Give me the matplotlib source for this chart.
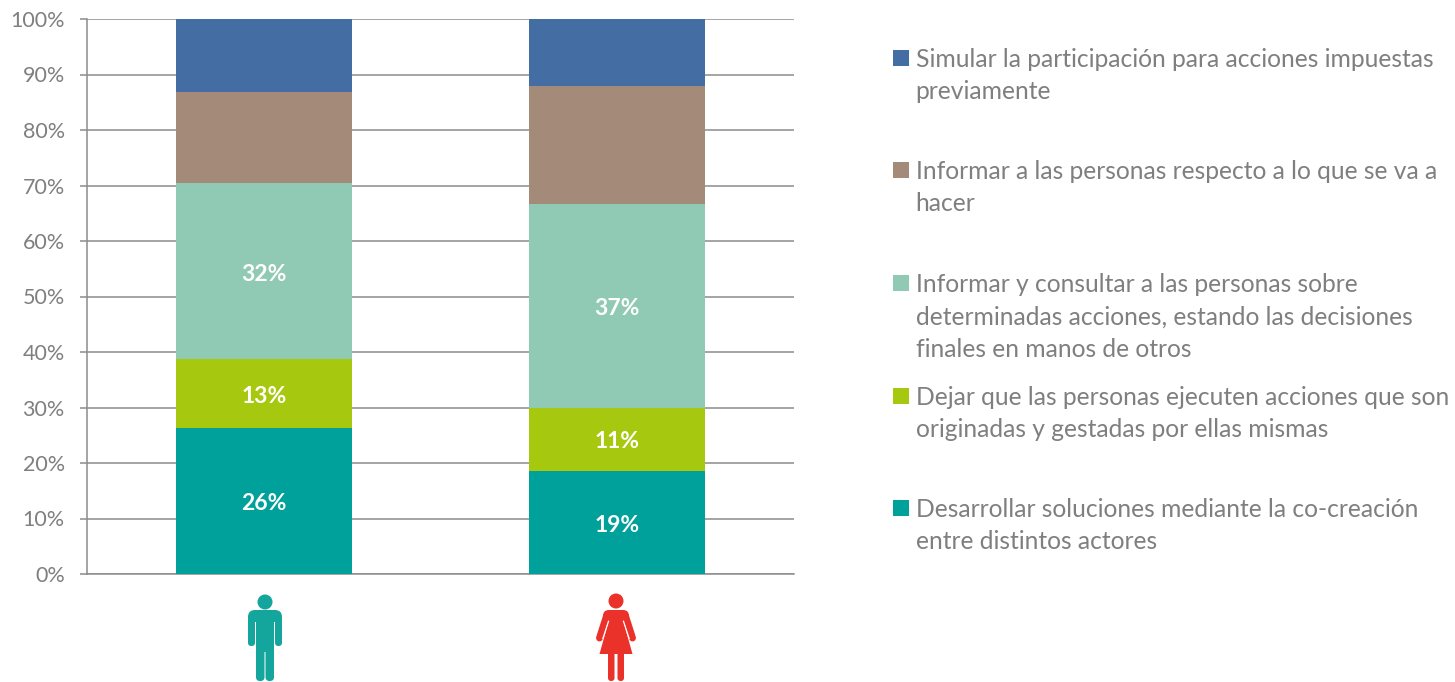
import matplotlib
matplotlib.use('Agg')
import matplotlib.pyplot as plt
from matplotlib.patches import Circle, Polygon, FancyBboxPatch, Rectangle
from matplotlib.ticker import FuncFormatter

plt.rcParams['font.family'] = ['Lato', 'DejaVu Sans']

W, H = 1455, 682
GRAY = '#8c8c8c'
TEXT = '#7f7f7f'

groups = ['Hombres', 'Mujeres']
desarrollar = [26.3, 18.6]
dejar = [12.4, 11.4]
consultar = [31.7, 36.6]
informar = [16.4, 21.4]
simular = [13.2, 12.0]

series = [desarrollar, dejar, consultar, informar, simular]
colors = ['#00a19a', '#a6c80f', '#90cab4', '#a48a79', '#446ea3']
bar_labels = [['26%', '19%'], ['13%', '11%'], ['32%', '37%'], ['', ''], ['', '']]

legend_labels = [
    'Simular la participación para acciones impuestas\npreviamente',
    'Informar a las personas respecto a lo que se va a\nhacer',
    'Informar y consultar a las personas sobre\ndeterminadas acciones, estando las decisiones\nfinales en manos de otros',
    'Dejar que las personas ejecuten acciones que son\noriginadas y gestadas por ellas mismas',
    'Desarrollar soluciones mediante la co-creación\nentre distintos actores',
]
legend_colors = colors[::-1]
legend_y = [58, 170, 283, 396, 508]


def rbox(ov, x0, y0, x1, y1, r, color):
    ov.add_patch(FancyBboxPatch((x0, y0), x1-x0, y1-y0, boxstyle=f'round,pad=0,rounding_size={r}', color=color, lw=0))


def man(ov, cx, color):
    ov.add_patch(Circle((cx, 602), 7.5, color=color, lw=0))
    rbox(ov, cx-17, 615, cx-10, 646, 3.4, color)
    rbox(ov, cx+10, 615, cx+17, 646, 3.4, color)
    rbox(ov, cx-17, 610, cx+17, 634, 7, color)
    # slits between arms and body
    ov.add_patch(Rectangle((cx-10.2, 622), 1.5, 26, color='white', lw=0))
    ov.add_patch(Rectangle((cx+8.7, 622), 1.5, 26, color='white', lw=0))
    ov.add_patch(Rectangle((cx-8.8, 630), 17.6, 22, color=color, lw=0))
    rbox(ov, cx-9, 646, cx-0.5, 681, 4, color)
    rbox(ov, cx+0.5, 646, cx+9, 681, 4, color)


def woman(ov, cx, color):
    ov.add_patch(Circle((cx, 601), 7.5, color=color, lw=0))
    for sgn in (-1, 1):
        ov.plot([cx+sgn*9.5, cx+sgn*16.5], [616, 638], color=color, lw=5, solid_capstyle='round')
    rbox(ov, cx-13, 610, cx+13, 624, 6, color)
    for sgn in (-1, 1):
        ov.plot([cx+sgn*7.3, cx+sgn*13.3], [620.7, 639], color='white', lw=0.9, solid_capstyle='butt')
    ov.add_patch(Polygon([(cx-7, 620), (cx+7, 620), (cx+16.5, 654), (cx-16.5, 654)], closed=True, color=color, lw=0))
    rbox(ov, cx-8, 650, cx-1.5, 681, 3, color)
    rbox(ov, cx+1.5, 650, cx+8, 681, 3, color)


fig = plt.figure(figsize=(W/100, H/100), dpi=100)
ax = fig.add_axes([87/W, 1-574/H, (794-87)/W, (574-19)/H])

x = range(len(groups))
bottom = [0, 0]
for vals, col, labs in zip(series, colors, bar_labels):
    bars = ax.bar(x, vals, width=0.498, bottom=bottom, color=col, zorder=3)
    anns = ax.bar_label(bars, labels=labs, label_type='center', color='white', fontsize=16.5, fontweight='bold', zorder=4)
    for a in anns:
        a.xyann = (0, -2)
    bottom = [b+v for b, v in zip(bottom, vals)]

ax.set_xlim(-0.5, 1.5)
ax.set_ylim(0, 100)
ax.set_yticks(range(0, 101, 10))
ax.yaxis.set_major_formatter(FuncFormatter(lambda v, p: f'{v:.0f}%'))
ax.set_xticks([])
ax.grid(axis='y', color=GRAY, lw=1.1, zorder=0)
ax.tick_params(axis='y', color=GRAY, labelcolor=TEXT, length=5, width=1.1, labelsize=15.5, pad=11)
for s in ['top', 'right']:
    ax.spines[s].set_visible(False)
for s in ['left', 'bottom']:
    ax.spines[s].set_color(GRAY)
    ax.spines[s].set_linewidth(1.1)

# overlay in pixel coords for legend and icons
ov = fig.add_axes([0, 0, 1, 1], zorder=5)
ov.set_xlim(0, W)
ov.set_ylim(H, 0)
ov.axis('off')
ov.patch.set_alpha(0)

for lab, col, y in zip(legend_labels, legend_colors, legend_y):
    ov.add_patch(Rectangle((893, y-8), 16, 16, color=col, lw=0))
    ov.text(915.5, y-10, lab, color=TEXT, fontsize=17.7, va='top', ha='left', linespacing=1.49)

man(ov, 265, '#14a59c')
woman(ov, 616, '#ea322b')

fig.savefig('out.png', dpi=100)
